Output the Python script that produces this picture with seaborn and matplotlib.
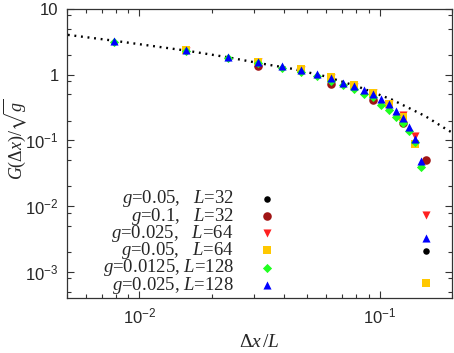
import numpy as np
import pandas as pd
import matplotlib
matplotlib.use("Agg")
import matplotlib.pyplot as plt
import seaborn as sns
from matplotlib.ticker import FixedLocator, FixedFormatter, LogLocator, NullFormatter

sns.set_theme(style="ticks")
plt.rcParams['font.family'] = ['Liberation Serif', 'DejaVu Serif']
plt.rcParams['mathtext.fontset'] = 'custom'
plt.rcParams['mathtext.rm'] = 'Liberation Serif'
plt.rcParams['mathtext.it'] = 'Liberation Serif:italic'
plt.rcParams['mathtext.sf'] = 'Liberation Sans'
plt.rcParams['mathtext.fallback'] = 'stix'

# separations in units of 1/128 of the system size
k128 = np.arange(1, 21) / 128.0
k64 = np.arange(2, 21, 2) / 128.0
k32 = np.arange(4, 21, 4) / 128.0

# G(dx)/sqrt(g)
g005_L32 = [1.50, 0.85, 0.48, 0.21, 0.0021]
g01_L32 = [1.37, 0.72, 0.418, 0.185, 0.0498]
g0025_L64 = [2.33, 1.55, 1.20, 0.89, 0.66, 0.52, 0.36, 0.248, 0.116, 0.00738]
g005_L64 = [2.35, 1.58, 1.21, 0.92, 0.70, 0.53, 0.364, 0.23, 0.089, 0.00067]
g00125_L128 = [3.20, 2.30, 1.82, 1.50, 1.26, 1.11, 0.94, 0.81, 0.70, 0.61,
               0.515, 0.46, 0.351, 0.288, 0.229, 0.185, 0.138, 0.094, 0.040]
g0025_L128 = [3.27, 2.35, 1.85, 1.56, 1.34, 1.19, 1.035, 0.89, 0.75, 0.665,
              0.59, 0.515, 0.433, 0.36, 0.278, 0.22, 0.159, 0.1035, 0.0486, 0.00327]

# dotted reference curve
curve_x = [0.00504, 0.00775, 0.01563, 0.0232, 0.0315, 0.0433, 0.0595, 0.0819,
           0.1125, 0.1549, 0.190, 0.200]
curve_y = [4.04, 3.31, 2.33, 1.85, 1.50, 1.23, 0.944, 0.652, 0.418, 0.234, 0.147, 0.132]

labels = [r'$g$=0.05,   $L$=32', r'$g$=0.1,   $L$=32', r'$g$=0.025,   $L$=64',
          r'$g$=0.05,   $L$=64', r'$g$=0.0125, $L$=128', r'$g$=0.025, $L$=128']

x_ticks = [0.01, 0.1]
x_ticklabels = [r'$\mathsf{10^{-2}}$', r'$\mathsf{10^{-1}}$']
y_ticks = [1e-3, 1e-2, 1e-1, 1, 10]
y_ticklabels = [r'$\mathsf{10^{-3}}$', r'$\mathsf{10^{-2}}$',
                r'$\mathsf{10^{-1}}$', '1', '10']

series = [
    (k32, g005_L32, 'o', 'black', 22),
    (k32, g01_L32, 'o', '#a01515', 38),
    (k64, g0025_L64, 'v', '#ff2020', 34),
    (k64, g005_L64, 's', '#ffc800', 26),
    (k128[:len(g00125_L128)], g00125_L128, 'D', '#20ff20', 22),
    (k128, g0025_L128, '^', '#0000ff', 34),
]

fig = plt.figure(figsize=(4.54, 3.53), dpi=100)
ax = fig.add_axes([0.1476, 0.1558, 0.8480, 0.8187])

sns.lineplot(x=curve_x, y=curve_y, ax=ax, color='black', lw=1.7,
             linestyle=(0, (0.8, 2.0)), zorder=1)

for (xs, ys, m, c, s), lab in zip(series, labels):
    df = pd.DataFrame({'x': xs, 'y': ys})
    sns.scatterplot(data=df, x='x', y='y', marker=m, color=c, s=s,
                    linewidth=0, ax=ax, label=lab, zorder=3)

ax.set_xscale('log')
ax.set_yscale('log')
ax.set_xlim(0.005, 0.2)
ax.set_ylim(4e-4, 10)

ax.xaxis.set_major_locator(FixedLocator(x_ticks))
ax.xaxis.set_major_formatter(FixedFormatter(x_ticklabels))
ax.yaxis.set_major_locator(FixedLocator(y_ticks))
ax.yaxis.set_major_formatter(FixedFormatter(y_ticklabels))
ax.xaxis.set_minor_locator(LogLocator(base=10, subs=np.arange(2, 10)))
ax.yaxis.set_minor_locator(LogLocator(base=10, subs=(2, 5, 8)))
ax.xaxis.set_minor_formatter(NullFormatter())
ax.yaxis.set_minor_formatter(NullFormatter())

ax.tick_params(which='both', direction='in', top=True, right=True,
               color='#333333', labelfontfamily='Liberation Sans')
ax.tick_params(which='major', length=5, width=0.8, labelsize=12, pad=6)
ax.tick_params(which='minor', length=3, width=0.8)
for sp in ax.spines.values():
    sp.set_color('#333333')
    sp.set_linewidth(0.9)

ax.set_xlabel(r'$\Delta x\,/L$', fontsize=14)
ax.set_ylabel(r'$G(\Delta x)/\sqrt{g}$', fontsize=13)
ax.xaxis.set_label_coords(0.5, -0.125)
ax.yaxis.set_label_coords(-0.1, 0.55)

leg = ax.legend(loc='lower right', bbox_to_anchor=(0.543, 0.008), frameon=False,
                markerfirst=False, fontsize=13.5, handlelength=1.0,
                handletextpad=1.25, labelspacing=-0.2, borderpad=0.0,
                borderaxespad=0.0)

fig.savefig('out.png', dpi=100)
